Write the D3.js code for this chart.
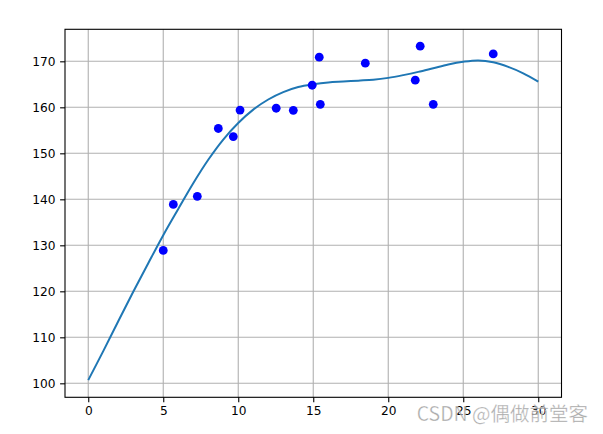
<!DOCTYPE html>
<html>
<head>
<meta charset="utf-8">
<script src="https://cdn.jsdelivr.net/npm/d3@7"></script>
<style>
  html, body { margin: 0; padding: 0; background: #fff; }
  svg { display: block; }
  text { font-family: "DejaVu Sans", sans-serif; }
</style>
</head>
<body>
<svg id="chart" width="603" height="434"></svg>
<script>
const xTicks = [0, 5, 10, 15, 20, 25, 30];
const yTicks = [100, 110, 120, 130, 140, 150, 160, 170];

const pointX = [5.0, 5.67, 7.27, 8.67, 9.67, 10.12, 12.53, 13.67, 14.93, 15.4, 15.47, 18.47, 21.8, 22.13, 23.0, 27.0];
const pointY = [128.9, 138.9, 140.65, 155.4, 153.65, 159.4, 159.8, 159.35, 164.8, 170.9, 160.65, 169.6, 165.9, 173.3, 160.65, 171.6];

const curveX = [0, 1, 2, 3, 4, 5, 6, 7, 8, 9, 10, 11, 12, 13, 14, 15, 16, 17, 18, 19, 20, 21, 22, 23, 24, 25, 26, 27, 28, 29, 30];
const curveY = [100.7, 107.0, 113.5, 119.9, 126.1, 132.2, 137.9, 143.5, 148.6, 153.0, 156.6, 159.5, 161.7, 163.3, 164.4, 165.0, 165.4, 165.6, 165.8, 166.0, 166.4, 167.0, 167.7, 168.5, 169.3, 169.9, 170.2, 169.8, 168.8, 167.4, 165.6];

const watermark = "CSDN @偶做前堂客";

const W = 603, H = 434;
const m = { left: 65, right: 561.5, top: 29.3, bottom: 397.3 };

const svg = d3.select("#chart");

const x = d3.scaleLinear().domain([-1.55, 31.55]).range([m.left, m.right]);
const y = d3.scaleLinear().domain([96.96, 176.96]).range([m.bottom, m.top]);

// grid
const grid = svg.append("g");
grid.selectAll("line.vx").data(xTicks).join("line")
  .attr("x1", d => x(d)).attr("x2", d => x(d))
  .attr("y1", m.top).attr("y2", m.bottom)
  .attr("stroke", "#b0b0b0").attr("stroke-width", 1.1);
grid.selectAll("line.hy").data(yTicks).join("line")
  .attr("x1", m.left).attr("x2", m.right)
  .attr("y1", d => y(d)).attr("y2", d => y(d))
  .attr("stroke", "#b0b0b0").attr("stroke-width", 1.1);

// axes
const xAxis = d3.axisBottom(x).tickValues(xTicks).tickSize(4.9).tickPadding(4.5).tickFormat(d3.format("d"));
const yAxis = d3.axisLeft(y).tickValues(yTicks).tickSize(4.9).tickPadding(4.5).tickFormat(d3.format("d"));

const gx = svg.append("g").attr("transform", `translate(0,${m.bottom})`).call(xAxis);
const gy = svg.append("g").attr("transform", `translate(${m.left},0)`).call(yAxis);
[gx, gy].forEach(g => {
  g.select(".domain").remove();
  g.selectAll(".tick line").attr("stroke", "#000").attr("stroke-width", 1.1);
  g.selectAll(".tick text").attr("fill", "#000").style("font-size", "12.2px").style("font-family", "DejaVu Sans, sans-serif");
});

// curve
const line = d3.line()
  .x((d, i) => x(curveX[i]))
  .y(d => y(d))
  .curve(d3.curveCatmullRom.alpha(0.5));
svg.append("path")
  .datum(curveY)
  .attr("d", line)
  .attr("fill", "none")
  .attr("stroke", "#1f77b4")
  .attr("stroke-width", 2);

// points
svg.append("g").selectAll("circle").data(pointX).join("circle")
  .attr("cx", d => x(d))
  .attr("cy", (d, i) => y(pointY[i]))
  .attr("r", 4.4)
  .attr("fill", "#0000ff");

// frame
svg.append("rect")
  .attr("x", m.left).attr("y", m.top)
  .attr("width", m.right - m.left).attr("height", m.bottom - m.top)
  .attr("fill", "none").attr("stroke", "#000").attr("stroke-width", 1.1);

// watermark
svg.append("text")
  .attr("x", 588).attr("y", 421)
  .attr("text-anchor", "end")
  .attr("fill", "rgba(140,140,140,0.75)")
  .attr("stroke", "rgba(255,255,255,0.6)")
  .attr("stroke-width", 0.6)
  .style("font-family", "'Noto Sans CJK SC', sans-serif")
  .style("font-size", "19.5px")
  .text(watermark);
</script>
</body>
</html>
